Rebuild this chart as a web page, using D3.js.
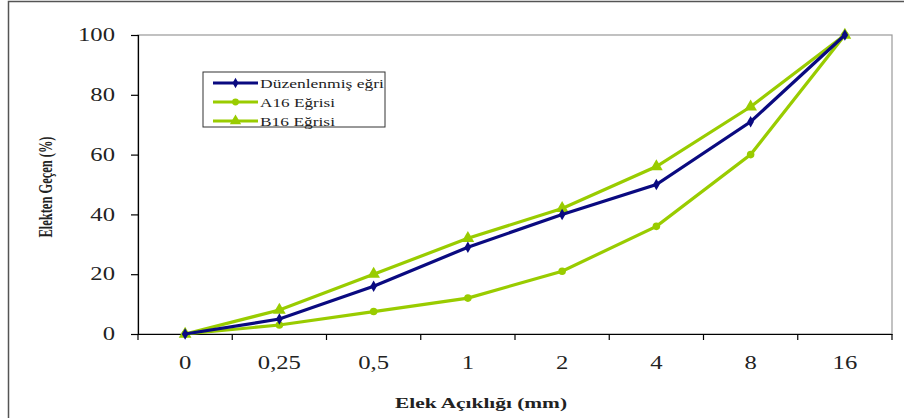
<!DOCTYPE html>
<html>
<head>
<meta charset="utf-8">
<script src="https://cdn.jsdelivr.net/npm/d3@7"></script>
<style>
  body { margin: 0; background: #fff; }
  svg text { font-family: "Liberation Serif", "Times New Roman", serif; }
</style>
</head>
<body>
<div id="chart"></div>
<script>
const categories = ["0", "0,25", "0,5", "1", "2", "4", "8", "16"];
const duzenlenmis = [0, 5, 16, 29, 40, 50, 71, 100];
const a16 = [0, 3, 7.5, 12, 21, 36, 60, 100];
const b16 = [0, 8, 20, 32, 42, 56, 76, 100];
const yTicks = [0, 20, 40, 60, 80, 100];

const width = 904;
const height = 418;
const margin = { top: 35, right: 12, bottom: 84, left: 138 };
const stretch = 1.37;
const serif = "'Liberation Serif', 'Times New Roman', serif";

const svg = d3
  .select("#chart")
  .append("svg")
  .attr("width", width)
  .attr("height", height);

// outer chart border
svg
  .append("rect")
  .attr("x", 8.5)
  .attr("y", 1.5)
  .attr("width", width + 10)
  .attr("height", height + 10)
  .attr("fill", "#fff")
  .attr("stroke", "#555")
  .attr("stroke-width", 1.5);

const x = d3
  .scaleBand()
  .domain(categories)
  .range([margin.left, width - margin.right]);

const y = d3
  .scaleLinear()
  .domain([0, 100])
  .range([height - margin.bottom, margin.top]);

// plot frame
svg
  .append("rect")
  .attr("x", margin.left)
  .attr("y", margin.top)
  .attr("width", width - margin.right - margin.left)
  .attr("height", height - margin.bottom - margin.top)
  .attr("fill", "none")
  .attr("stroke", "#999")
  .attr("stroke-width", 1.2);

// X axis
const xAxis = svg
  .append("g")
  .attr("transform", `translate(0, ${height - margin.bottom})`)
  .call(d3.axisBottom(x).tickSize(0).tickPadding(22));
xAxis.attr("font-family", serif);
xAxis.select(".domain").attr("stroke", "#000").attr("stroke-width", 1.2);
xAxis
  .selectAll("text")
  .attr("font-size", 18)
  .attr("fill", "#222")
  .attr("transform", `scale(${stretch},1)`);
// tick marks at band boundaries
const bounds = categories.map((c) => x(c)).concat([x.range()[1]]);
svg
  .append("g")
  .selectAll("line")
  .data(bounds)
  .join("line")
  .attr("x1", (d) => d)
  .attr("x2", (d) => d)
  .attr("y1", height - margin.bottom)
  .attr("y2", height - margin.bottom + 6)
  .attr("stroke", "#000")
  .attr("stroke-width", 1.2);

// Y axis
const yAxis = svg
  .append("g")
  .attr("transform", `translate(${margin.left}, 0)`)
  .call(d3.axisLeft(y).tickValues(yTicks).tickSize(7));
yAxis.attr("font-family", serif);
yAxis.select(".domain").attr("stroke", "#000").attr("stroke-width", 1.2);
yAxis.selectAll(".tick line").attr("stroke", "#000").attr("stroke-width", 1.2);
yAxis
  .selectAll("text")
  .attr("font-size", 18)
  .attr("fill", "#222")
  .attr("x", -23 / stretch)
  .attr("transform", `scale(${stretch},1)`);

// axis titles
svg
  .append("text")
  .attr("x", 481)
  .attr("y", 408)
  .attr("text-anchor", "middle")
  .attr("font-family", serif)
  .attr("font-size", 15)
  .attr("font-weight", "bold")
  .attr("fill", "#222")
  .attr("textLength", 172)
  .attr("lengthAdjust", "spacingAndGlyphs")
  .text("Elek Açıklığı (mm)");

svg
  .append("text")
  .attr("transform", `translate(52, 187) rotate(-90)`)
  .attr("text-anchor", "middle")
  .attr("font-family", serif)
  .attr("font-size", 18)
  .attr("font-weight", "bold")
  .attr("fill", "#222")
  .attr("textLength", 101)
  .attr("lengthAdjust", "spacingAndGlyphs")
  .text("Elekten Geçen (%)");

const series = [
  { name: "Düzenlenmiş eğri", len: 124, values: duzenlenmis, color: "#0a0a80", symbol: d3.symbolDiamond, size: 38 },
  { name: "A16 Eğrisi", len: 75, values: a16, color: "#99cc00", symbol: d3.symbolCircle, size: 45 },
  { name: "B16 Eğrisi", len: 75, values: b16, color: "#99cc00", symbol: d3.symbolTriangle, size: 70 },
];

const cx = (i) => x(categories[i]) + x.bandwidth() / 2;
const line = d3
  .line()
  .x((d, i) => cx(i))
  .y((d) => y(d));

// green curves first, dark line on top
[series[1], series[2], series[0]].forEach((s) => {
  svg
    .append("path")
    .datum(s.values)
    .attr("fill", "none")
    .attr("stroke", s.color)
    .attr("stroke-width", 3.2)
    .attr("d", line);
  svg
    .append("g")
    .selectAll("path")
    .data(s.values)
    .join("path")
    .attr("transform", (d, i) => `translate(${cx(i)}, ${y(d)})`)
    .attr("d", d3.symbol().type(s.symbol).size(s.size))
    .attr("fill", s.color);
});

// legend
const legend = svg.append("g").attr("transform", "translate(203, 72)");
legend
  .append("rect")
  .attr("width", 182)
  .attr("height", 55)
  .attr("fill", "#fff")
  .attr("stroke", "#333")
  .attr("stroke-width", 1);
series.forEach((s, i) => {
  const g = legend.append("g").attr("transform", `translate(0, ${11 + i * 19})`);
  g.append("line")
    .attr("x1", 10)
    .attr("x2", 55)
    .attr("stroke", s.color)
    .attr("stroke-width", 3);
  g.append("path")
    .attr("transform", "translate(32.5, 0)")
    .attr("d", d3.symbol().type(s.symbol).size(s.size * 0.8))
    .attr("fill", s.color);
  g.append("text")
    .attr("x", 57)
    .attr("y", 4.5)
    .attr("font-family", serif)
    .attr("font-size", 13)
    .attr("fill", "#222")
    .attr("textLength", s.len)
    .attr("lengthAdjust", "spacingAndGlyphs")
    .text(s.name);
});
</script>
</body>
</html>
